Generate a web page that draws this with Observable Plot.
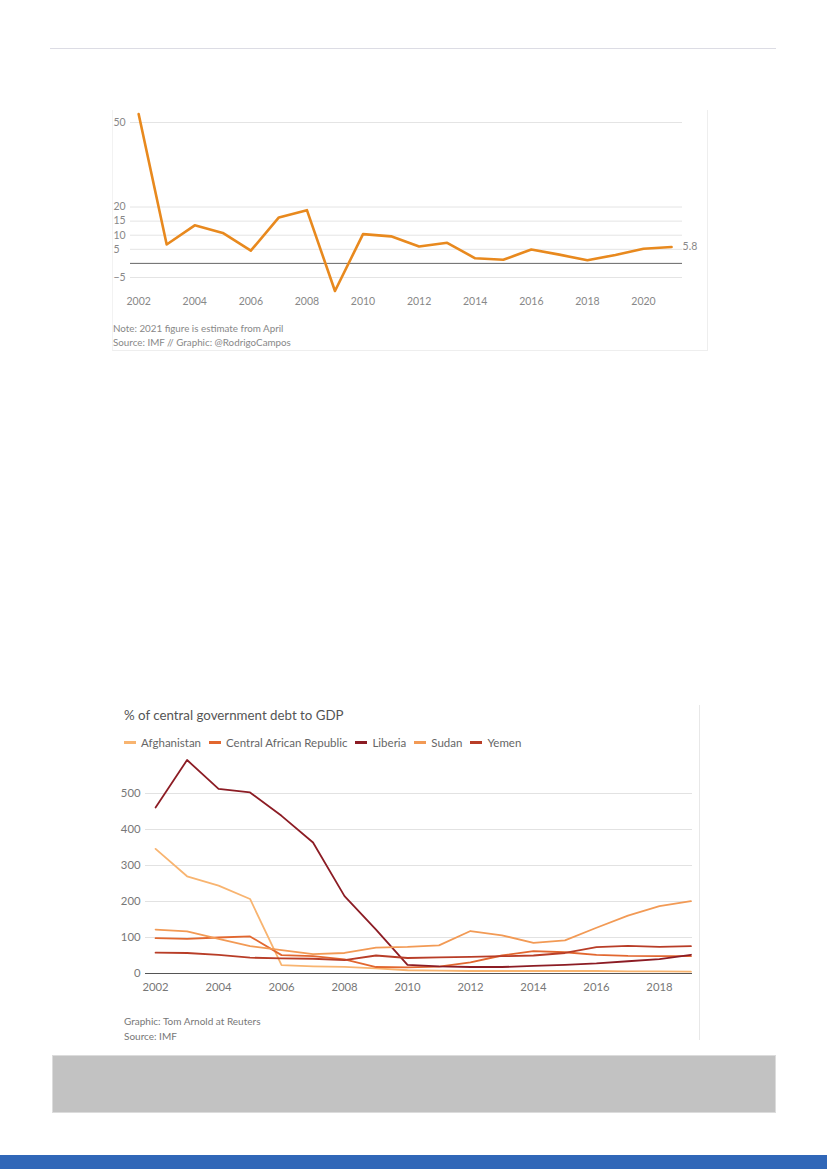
<!DOCTYPE html>
<html>
<head>
<meta charset="utf-8">
<script src="https://cdn.jsdelivr.net/npm/d3@7"></script>
<script src="https://cdn.jsdelivr.net/npm/@observablehq/plot@0.6"></script>
<style>
  html, body { margin: 0; padding: 0; background: #fff; }
  body { width: 827px; height: 1169px; position: relative; overflow: hidden; font-family: Lato, "Open Sans", sans-serif; }
  .abs { position: absolute; }
  svg { overflow: visible; }
</style>
</head>
<body>
<div class="abs" style="left:50px;top:48px;width:726px;height:0;border-top:1px solid #dcdce4;"></div>

<div class="abs" style="left:112px;top:110px;width:594px;height:240px;border-right:1px solid #eee;border-bottom:1px solid #eee;border-left:1px solid #f2f2f2;"></div>
<div id="topChart" class="abs" style="left:100px;top:100px;"></div>
<div class="abs" style="left:113px;top:322px;font-size:9.8px;color:#888;line-height:13.5px;">
  <div>Note: 2021 figure is estimate from April</div>
  <div>Source: IMF // Graphic: @RodrigoCampos</div>
</div>

<div class="abs" style="left:699px;top:705px;width:0;height:335px;border-left:1px solid #e8e8e8;"></div>
<div class="abs" style="left:124px;top:707px;font-size:13.3px;color:#555;">% of central government debt to GDP</div>
<div id="legend" class="abs" style="left:124px;top:736px;font-size:11.5px;color:#666;display:flex;align-items:center;white-space:nowrap;"></div>
<div id="bottomChart" class="abs" style="left:100px;top:750px;"></div>
<div class="abs" style="left:124px;top:1014px;font-size:10px;color:#777;line-height:15px;">
  <div>Graphic: Tom Arnold at Reuters</div>
  <div>Source: IMF</div>
</div>

<div class="abs" style="left:52px;top:1055px;width:722px;height:56px;background:#c2c2c2;border:1px solid #dcdcdc;"></div>
<div class="abs" style="left:0;top:1155px;width:827px;height:14px;background:#3067b8;"></div>

<script>
// ---- Top chart data ----
const growthYears = [2002,2003,2004,2005,2006,2007,2008,2009,2010,2011,2012,2013,2014,2015,2016,2017,2018,2019,2020,2021];
const growthValues = [53,6.7,13.5,10.8,4.5,16.3,18.9,-9.8,10.4,9.6,6.0,7.3,1.8,1.3,4.9,3.1,1.1,3.0,5.2,5.8];
const growthYTicks = [-5,5,10,15,20,50];
const growthXTicks = [2002,2004,2006,2008,2010,2012,2014,2016,2018,2020];

// ---- Bottom chart data ----
const debtYears = [2002,2003,2004,2005,2006,2007,2008,2009,2010,2011,2012,2013,2014,2015,2016,2017,2018,2019];
const countries = ["Afghanistan","Central African Republic","Liberia","Sudan","Yemen"];
const countryColors = ["#f8b470","#e2672f","#8c1c24","#f29a55","#b83d27"];
const afghanistan = [346,270,244,207,23,20,18.5,14,9,8,7,7,7,7,7,6,6,5];
const car         = [98,96,100,103,51,48,39,18,17,19,31,50,62,59,52,49,48,48];
const liberia     = [461,593,513,503,438,364,215,122,24,20,18,18,21,24,28,34,40,52];
const sudan       = [122,117,96,76,65,54,57,72,74,78,118,106,85,92,127,161,187,201];
const yemen       = [58,57,52,44,42,41,37,50,43,45,46,48,50,57,73,77,74,76];
const debtYTicks = [0,100,200,300,400,500];
const debtXTicks = [2002,2004,2006,2008,2010,2012,2014,2016,2018];

const growth = growthYears.map((y,i) => ({year: y, value: growthValues[i]}));
const seriesArrays = [afghanistan, car, liberia, sudan, yemen];
const debt = countries.flatMap((c,ci) => debtYears.map((y,i) => ({country: c, year: y, value: seriesArrays[ci][i]})));

const fontFam = "Lato, 'Open Sans', sans-serif";

const growthPlot = Plot.plot({
  width: 610,
  height: 215,
  marginLeft: 30, marginRight: 28, marginTop: 5.1, marginBottom: 18.3,
  style: {fontFamily: fontFam, background: "transparent", overflow: "visible"},
  x: {domain: [2001.71, 2021.39], axis: null},
  y: {domain: [-12, 56], axis: null},
  marks: [
    Plot.ruleY(growthYTicks, {stroke: "#e4e4e4", strokeWidth: 1}),
    Plot.ruleY([0], {stroke: "#666", strokeWidth: 1}),
    Plot.text(growthYTicks, {y: d => d, text: d => d < 0 ? "\u2212" + Math.abs(d) : String(d), frameAnchor: "left", textAnchor: "start", dx: -17, fill: "#888", fontSize: 10.5}),
    Plot.text(growthXTicks, {x: d => d, text: d => String(d), frameAnchor: "bottom", lineAnchor: "middle", dy: 4.5, fill: "#888", fontSize: 10.5}),
    Plot.line(growth, {x: "year", y: "value", stroke: "#e8891e", strokeWidth: 2.6, strokeLinejoin: "round"}),
    Plot.text(growth.slice(-1), {x: "year", y: "value", text: d => String(d.value), textAnchor: "start", dx: 11, fill: "#888", fontSize: 10.5})
  ]
});
document.getElementById("topChart").appendChild(growthPlot);

const debtPlot = Plot.plot({
  width: 600,
  height: 250,
  marginLeft: 45, marginRight: 8, marginTop: 7, marginBottom: 27,
  style: {fontFamily: fontFam, background: "transparent", overflow: "visible"},
  x: {domain: [2001.68, 2019.05], axis: null},
  y: {domain: [0, 600], axis: null},
  color: {domain: countries, range: countryColors},
  marks: [
    Plot.ruleY(debtYTicks.filter(d => d > 0), {stroke: "#e2e2e2", strokeWidth: 1.2}),
    Plot.ruleY([0], {stroke: "#555", strokeWidth: 1}),
    Plot.text(debtYTicks, {y: d => d, text: d => String(d), frameAnchor: "left", textAnchor: "end", dx: -5, fill: "#777", fontSize: 11.3}),
    Plot.text(debtXTicks, {x: d => d, text: d => String(d), frameAnchor: "bottom", lineAnchor: "middle", dy: 14, fill: "#777", fontSize: 11.3}),
    Plot.line(debt, {x: "year", y: "value", z: "country", stroke: "country", strokeWidth: 1.8, strokeLinejoin: "round"})
  ]
});
document.getElementById("bottomChart").appendChild(debtPlot);

// legend
const legendEl = document.getElementById("legend");
countries.forEach((c, i) => {
  const sw = document.createElement("span");
  sw.style.cssText = `display:inline-block;width:12px;height:2.4px;background:${countryColors[i]};margin-right:5px;`;
  const tx = document.createElement("span");
  tx.textContent = c;
  tx.style.marginRight = "8px";
  legendEl.appendChild(sw);
  legendEl.appendChild(tx);
});
</script>
</body>
</html>
